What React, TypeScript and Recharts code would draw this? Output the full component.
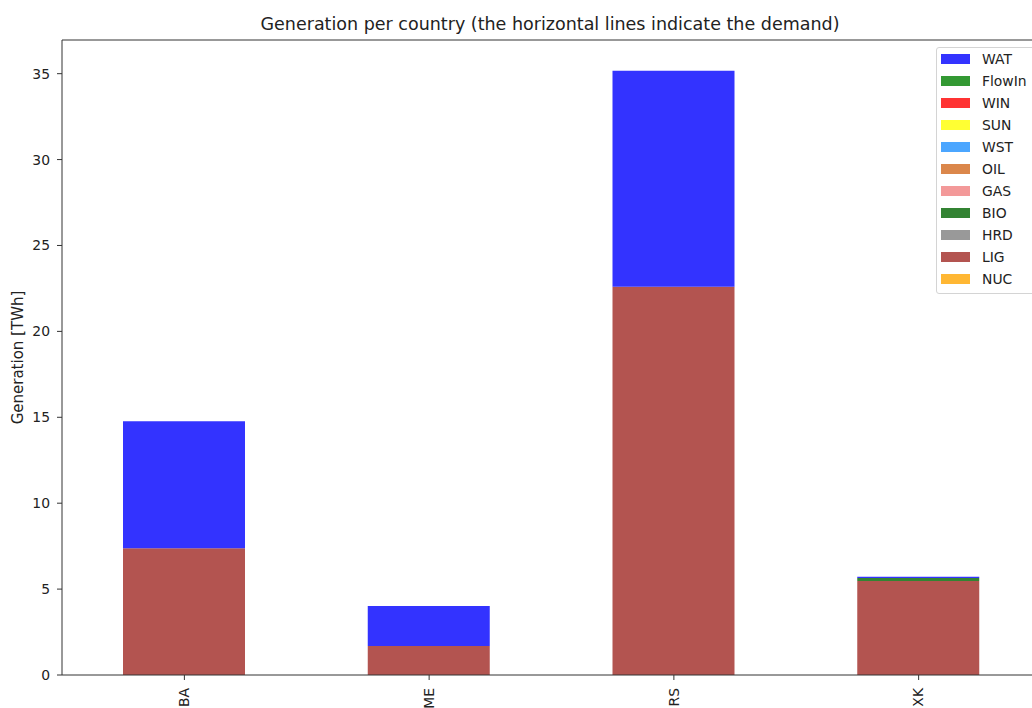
import { Bar, BarChart, Legend, ReferenceLine, XAxis, YAxis } from "recharts";

const countries = ["BA", "ME", "RS", "XK"];

// generation per fuel type, TWh (same order as countries)
const WAT = [7.39, 2.32, 12.57, 0.08];
const FlowIn = [0, 0, 0, 0];
const WIN = [0, 0, 0, 0];
const SUN = [0, 0, 0, 0];
const WST = [0, 0, 0, 0];
const OIL = [0, 0, 0, 0];
const GAS = [0, 0, 0, 0];
const BIO = [0, 0, 0, 0.17];
const HRD = [0, 0, 0, 0];
const LIG = [7.38, 1.69, 22.6, 5.47];
const NUC = [0, 0, 0, 0];

const yTicks = [0, 5, 10, 15, 20, 25, 30, 35];
const yMax = 36.96;

// legend order, top to bottom
const fuels = [
  { key: "WAT", values: WAT, color: "#3333ff" },
  { key: "FlowIn", values: FlowIn, color: "#339933" },
  { key: "WIN", values: WIN, color: "#ff3333" },
  { key: "SUN", values: SUN, color: "#ffff33" },
  { key: "WST", values: WST, color: "#4ba6ff" },
  { key: "OIL", values: OIL, color: "#db874b" },
  { key: "GAS", values: GAS, color: "#f39999" },
  { key: "BIO", values: BIO, color: "#338333" },
  { key: "HRD", values: HRD, color: "#999999" },
  { key: "LIG", values: LIG, color: "#b35450" },
  { key: "NUC", values: NUC, color: "#ffb733" }
];

// stacked bottom-up: NUC first, WAT on top
const stackOrder = [...fuels].reverse();

const data = countries.map((country, i) => {
  const row: Record<string, string | number> = { country };
  fuels.forEach((f) => {
    row[f.key] = f.values[i];
  });
  return row;
});

const FONT = "'DejaVu Sans', sans-serif";
const AXIS = "#333";

function CountryTick({ x, y, payload }: any) {
  return (
    <text
      x={x}
      y={y + 6}
      transform={`rotate(-90, ${x}, ${y + 6})`}
      textAnchor="end"
      dy="0.35em"
      fontSize={13.9}
      fill="#222"
      fontFamily={FONT}
    >
      {payload.value}
    </text>
  );
}

function YLabel({ viewBox }: any) {
  const cx = 18;
  const cy = viewBox.y + viewBox.height / 2;
  return (
    <text
      x={cx}
      y={cy}
      transform={`rotate(-90, ${cx}, ${cy})`}
      textAnchor="middle"
      dominantBaseline="central"
      fontSize={15}
      fill="#222"
      fontFamily={FONT}
    >
      Generation [TWh]
    </text>
  );
}

function FuelLegend() {
  return (
    <div
      style={{
        width: 100,
        border: "1px solid #d4d4d4",
        borderRadius: 3,
        background: "rgba(255,255,255,0.8)",
        paddingBottom: 3,
        fontFamily: FONT,
        fontSize: 13.9,
        color: "#222"
      }}
    >
      {fuels.map((f) => (
        <div key={f.key} style={{ display: "flex", alignItems: "center", height: 22 }}>
          <span
            style={{
              display: "inline-block",
              width: 29,
              height: 10,
              marginLeft: 4,
              marginRight: 12,
              background: f.color
            }}
          />
          <span>{f.key}</span>
        </div>
      ))}
    </div>
  );
}

export default function App() {
  return (
    <div
      style={{
        position: "absolute",
        left: 0,
        top: 0,
        width: 1032,
        height: 708,
        overflow: "hidden",
        background: "#fff",
        fontFamily: FONT
      }}
    >
      <div
        style={{
          position: "absolute",
          left: 0,
          top: 13,
          width: 1100,
          textAlign: "center",
          fontSize: 17.5,
          lineHeight: "22px",
          color: "#222",
          whiteSpace: "nowrap"
        }}
      >
        Generation per country (the horizontal lines indicate the demand)
      </div>
      <BarChart
        width={1045}
        height={708}
        data={data}
        margin={{ top: 40, right: 4, left: 0, bottom: 0 }}
      >
        <XAxis
          dataKey="country"
          height={33}
          stroke={AXIS}
          tickSize={5}
          tick={<CountryTick />}
        />
        <YAxis
          width={62}
          domain={[0, yMax]}
          ticks={yTicks}
          stroke={AXIS}
          tickSize={5}
          tickMargin={7}
          tick={{ fontSize: 13.9, fill: "#222", fontFamily: FONT }}
          label={<YLabel />}
        />
        <Legend
          layout="horizontal"
          verticalAlign="middle"
          align="center"
          content={<FuelLegend />}
          wrapperStyle={{ position: "absolute", left: 936, top: 47, width: 100 }}
        />
        {stackOrder.map((f) => (
          <Bar
            key={f.key}
            dataKey={f.key}
            stackId="gen"
            fill={f.color}
            barSize={122}
            isAnimationActive={false}
          />
        ))}
        {/* top spine of the axes box */}
        <ReferenceLine y={yMax} stroke={AXIS} strokeWidth={1} />
      </BarChart>
    </div>
  );
}
